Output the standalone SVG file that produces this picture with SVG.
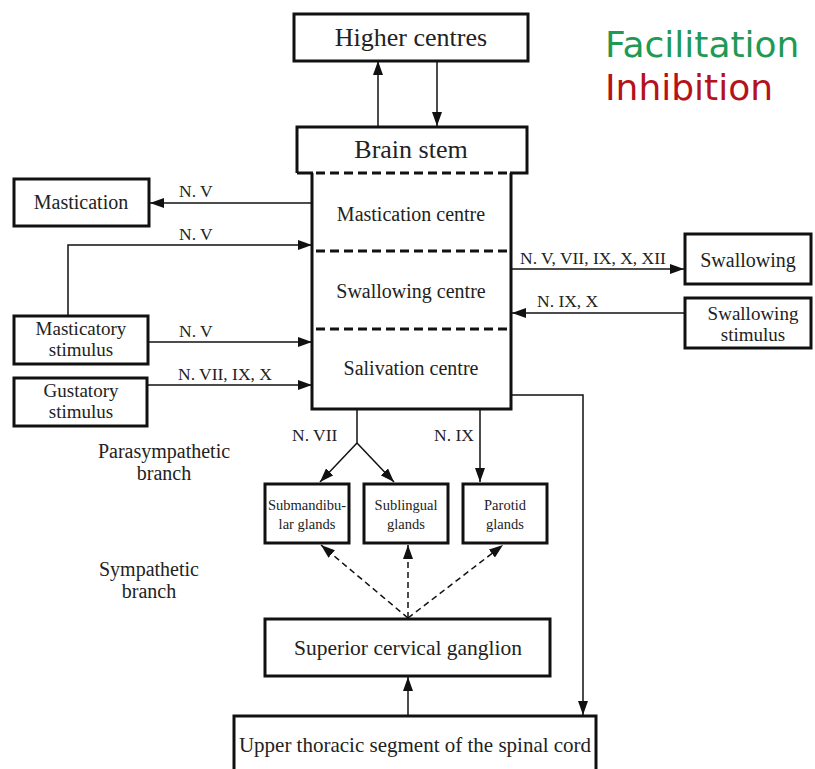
<svg xmlns="http://www.w3.org/2000/svg" width="815" height="769" viewBox="0 0 815 769">
<defs>
<marker id="ah" viewBox="0 0 14 10" refX="14" refY="5" markerWidth="14" markerHeight="10" markerUnits="userSpaceOnUse" orient="auto">
<path d="M0,0 L14,5 L0,10 z" fill="#111"/>
</marker>
</defs>
<style>
.box{fill:#fff;stroke:#111;stroke-width:3}
.t{font-family:"Liberation Serif","Times New Roman",serif;fill:#222;text-anchor:middle}
.lbl{font-family:"Liberation Serif","Times New Roman",serif;fill:#222;font-size:17.5px}
.c{fill:none;stroke:#111;stroke-width:1.5}
.ca{fill:none;stroke:#111;stroke-width:1.5;marker-end:url(#ah)}
.cd{fill:none;stroke:#111;stroke-width:1.5;stroke-dasharray:6 4;marker-end:url(#ah)}
.dash{fill:none;stroke:#111;stroke-width:3;stroke-dasharray:9 5}
.side{fill:none;stroke:#111;stroke-width:3}
</style>
<rect width="815" height="769" fill="#fff"/>

<g id="legend">
<text x="605" y="57" font-family="DejaVu Sans,Verdana,sans-serif" font-size="36" fill="#1f9a55">Facilitation</text>
<text x="605" y="100" font-family="DejaVu Sans,Verdana,sans-serif" font-size="36" fill="#b5121b">Inhibition</text>
</g>

<g id="connectors">
<path class="ca" d="M378,126 V61"/>
<path class="ca" d="M437,61 V126"/>
<path class="ca" d="M312,203 H150"/>
<path class="ca" d="M68,315 V245 H312"/>
<path class="ca" d="M148,342 H312"/>
<path class="ca" d="M147,385 H312"/>
<path class="ca" d="M511,269 H684"/>
<path class="ca" d="M685,313 H512"/>
<path class="ca" d="M511,395 H583 V715"/>
<path class="c" d="M357,410 V443"/>
<path class="ca" d="M357,443 L320,482"/>
<path class="ca" d="M357,443 L394,482"/>
<path class="ca" d="M480,410 V482"/>
<path class="cd" d="M408,618 L321,545"/>
<path class="cd" d="M408,618 V545"/>
<path class="cd" d="M408,618 L503,545"/>
<path class="ca" d="M408,715 V677"/>
<text class="lbl" x="179" y="197">N. V</text>
<text class="lbl" x="179" y="240">N. V</text>
<text class="lbl" x="179" y="337">N. V</text>
<text class="lbl" x="178" y="380">N. VII, IX, X</text>
<text class="lbl" x="520" y="264">N. V, VII, IX, X, XII</text>
<text class="lbl" x="537" y="307">N. IX, X</text>
<text class="lbl" x="292" y="441">N. VII</text>
<text class="lbl" x="434" y="441">N. IX</text>
</g>

<g id="higher-centres">
<rect class="box" x="294" y="14" width="234" height="47"/>
<text class="t" x="411" y="46" font-size="26">Higher centres</text>
</g>

<g id="brain-stem">
<path class="side" d="M297,173 V127 H527 V173 H510 M297,173 H313"/>
<text class="t" x="411" y="158" font-size="26">Brain stem</text>
</g>

<g id="centres">
<path class="side" d="M312,173 V409 H511 V173"/>
<path class="dash" d="M316,173 H508"/>
<path class="dash" d="M316,251 H508"/>
<path class="dash" d="M316,329 H508"/>
</g>
<g id="mastication-centre"><text class="t" x="411" y="221" font-size="20">Mastication centre</text></g>
<g id="swallowing-centre"><text class="t" x="411" y="298" font-size="20">Swallowing centre</text></g>
<g id="salivation-centre"><text class="t" x="411" y="375" font-size="20">Salivation centre</text></g>

<g id="mastication">
<rect class="box" x="14" y="179" width="135" height="47"/>
<text class="t" x="81" y="209" font-size="20">Mastication</text>
</g>

<g id="masticatory-stimulus">
<rect class="box" x="14" y="316" width="134" height="48"/>
<text class="t" x="81" y="335" font-size="19">Masticatory</text>
<text class="t" x="81" y="356" font-size="19">stimulus</text>
</g>

<g id="gustatory-stimulus">
<rect class="box" x="14" y="378" width="133" height="48"/>
<text class="t" x="81" y="397" font-size="19">Gustatory</text>
<text class="t" x="81" y="418" font-size="19">stimulus</text>
</g>

<g id="swallowing">
<rect class="box" x="685" y="234" width="126" height="50"/>
<text class="t" x="748" y="267" font-size="20">Swallowing</text>
</g>

<g id="swallowing-stimulus">
<rect class="box" x="685" y="298" width="126" height="50"/>
<text class="t" x="753" y="320" font-size="19">Swallowing</text>
<text class="t" x="753" y="341" font-size="19">stimulus</text>
</g>

<g id="parasympathetic-label">
<text class="t" x="164" y="458" font-size="20">Parasympathetic</text>
<text class="t" x="164" y="480" font-size="20">branch</text>
</g>

<g id="sympathetic-label">
<text class="t" x="149" y="576" font-size="20">Sympathetic</text>
<text class="t" x="149" y="598" font-size="20">branch</text>
</g>

<g id="submandibular">
<rect class="box" x="265" y="484" width="84" height="59"/>
<text class="t" x="307" y="510" font-size="14.5">Submandibu-</text>
<text class="t" x="307" y="529" font-size="14.5">lar glands</text>
</g>

<g id="sublingual">
<rect class="box" x="364" y="484" width="84" height="59"/>
<text class="t" x="406" y="510" font-size="14.5">Sublingual</text>
<text class="t" x="406" y="529" font-size="14.5">glands</text>
</g>

<g id="parotid">
<rect class="box" x="463" y="484" width="84" height="59"/>
<text class="t" x="505" y="510" font-size="14.5">Parotid</text>
<text class="t" x="505" y="529" font-size="14.5">glands</text>
</g>

<g id="superior-cervical-ganglion">
<rect class="box" x="265" y="619" width="285" height="57"/>
<text class="t" x="408" y="655" font-size="21.5">Superior cervical ganglion</text>
</g>

<g id="upper-thoracic">
<rect class="box" x="234" y="716" width="362" height="60"/>
<text class="t" x="415" y="752" font-size="21">Upper thoracic segment of the spinal cord</text>
</g>
</svg>
